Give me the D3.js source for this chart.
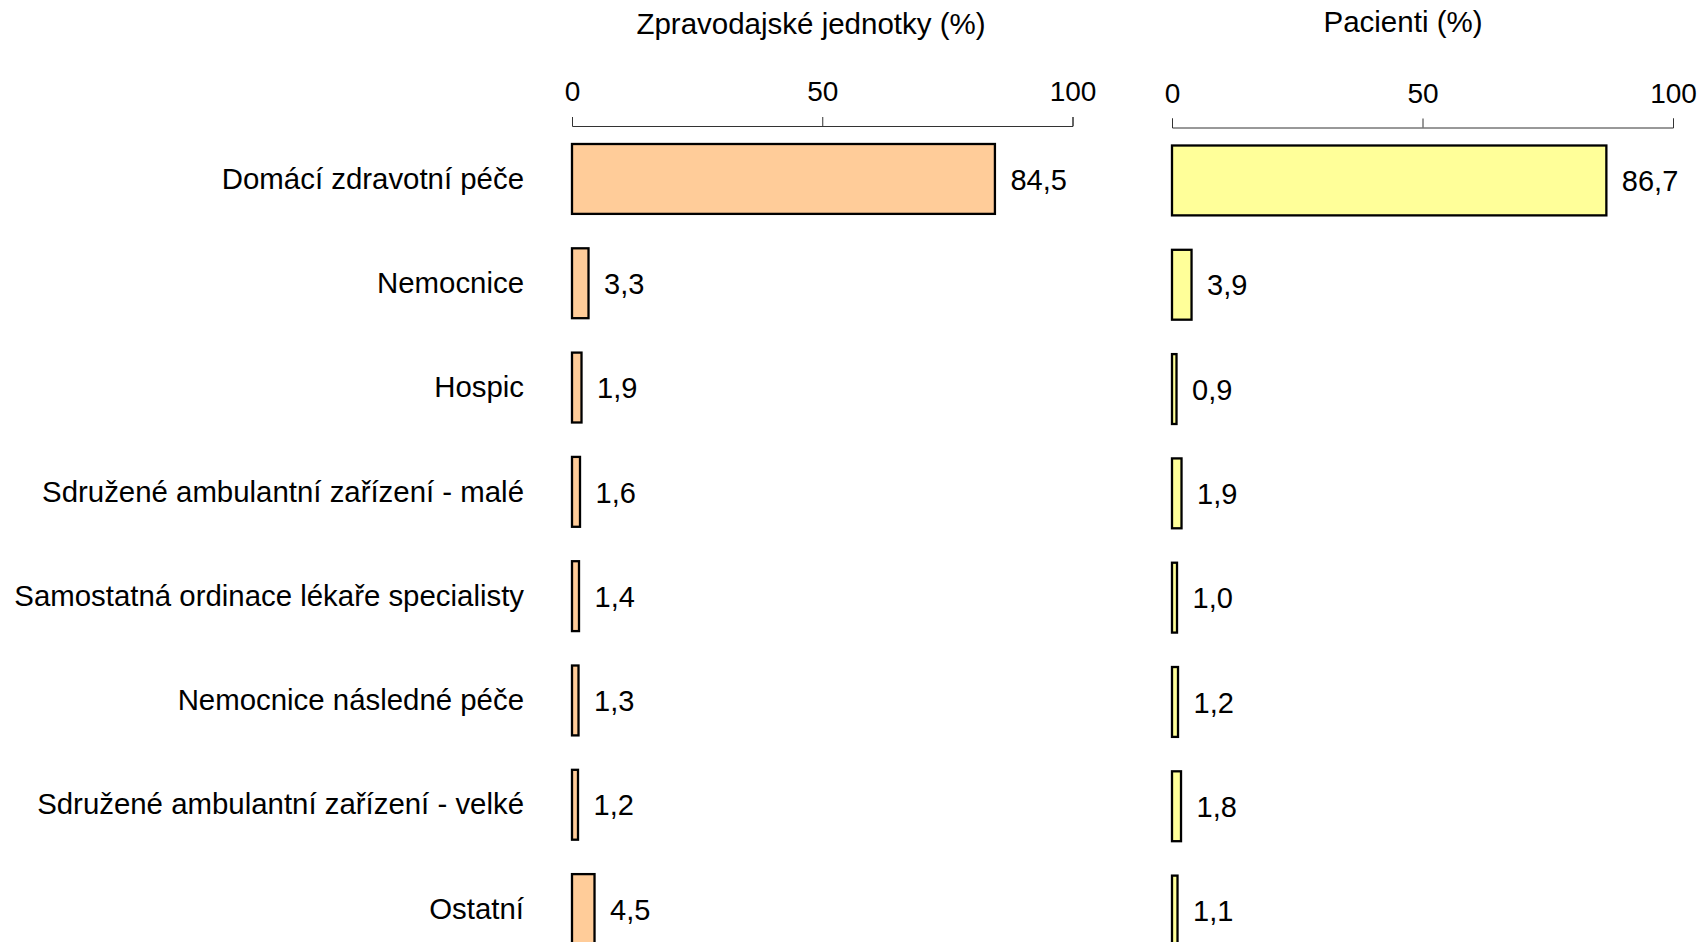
<!DOCTYPE html>
<html>
<head>
<meta charset="utf-8">
<script src="https://cdn.jsdelivr.net/npm/d3@7"></script>
<style>
  html, body { margin: 0; padding: 0; background: #fff; }
  svg { display: block; font-family: "Liberation Sans", Arial, sans-serif; }
</style>
</head>
<body>
<svg id="chart" width="1708" height="942"></svg>
<script>
const categories = [
  "Domácí zdravotní péče",
  "Nemocnice",
  "Hospic",
  "Sdružené ambulantní zařízení - malé",
  "Samostatná ordinace lékaře specialisty",
  "Nemocnice následné péče",
  "Sdružené ambulantní zařízení - velké",
  "Ostatní"
];
const unitsValues = [84.5, 3.3, 1.9, 1.6, 1.4, 1.3, 1.2, 4.5];
const patientsValues = [86.7, 3.9, 0.9, 1.9, 1.0, 1.2, 1.8, 1.1];
const tickValues = [0, 50, 100];
const panelTitles = ["Zpravodajské jednotky (%)", "Pacienti (%)"];

const svg = d3.select("#chart");
const locale = d3.formatLocale({decimal: ",", thousands: " ", grouping: [3], currency: ["", " Kč"]});
const fmt = locale.format(".1f");

const y = d3.scaleBand()
  .domain(categories)
  .range([144, 944])
  .paddingInner(0.33)
  .paddingOuter(0);

const panels = [
  {values: unitsValues, range: [572, 1072.5], fill: "#FFCC99", title: panelTitles[0], titleX: 811, titleY: 34, dy: 0},
  {values: patientsValues, range: [1172, 1673], fill: "#FFFF99", title: panelTitles[1], titleX: 1403, titleY: 32, dy: 1.5}
];

// Category labels
svg.append("g").selectAll("text")
  .data(categories)
  .join("text")
  .attr("x", 524)
  .attr("y", d => y(d) + y.bandwidth() / 2)
  .attr("dy", "0.33em")
  .attr("text-anchor", "end")
  .attr("font-size", 29.4)
  .attr("fill", "#000")
  .text(d => d);

panels.forEach(p => {
  const x = d3.scaleLinear().domain([0, 100]).range(p.range);
  const g = svg.append("g").attr("transform", `translate(0,${p.dy})`);

  // axis
  const axis = d3.axisTop(x).tickValues(tickValues).tickSize(9).tickPadding(16).tickFormat(d3.format("d"));
  const ag = g.append("g").attr("transform", "translate(0,126)").call(axis);
  ag.selectAll("path, line").attr("stroke", "#333").attr("stroke-width", 1);
  ag.selectAll("text").attr("font-size", 28).attr("fill", "#000")
    .attr("font-family", "\"Liberation Sans\", Arial, sans-serif");

  // title
  svg.append("text")
    .attr("x", p.titleX)
    .attr("y", p.titleY)
    .attr("text-anchor", "middle")
    .attr("font-size", 29.5)
    .attr("fill", "#000")
    .text(p.title);

  // bars
  g.selectAll("rect.bar")
    .data(p.values)
    .join("rect")
    .attr("class", "bar")
    .attr("x", x(0))
    .attr("y", (d, i) => y(categories[i]))
    .attr("width", d => x(d) - x(0))
    .attr("height", y.bandwidth())
    .attr("fill", p.fill)
    .attr("stroke", "#000")
    .attr("stroke-width", 2.3);

  // value labels
  g.selectAll("text.val")
    .data(p.values)
    .join("text")
    .attr("class", "val")
    .attr("x", d => x(d) + 15.5)
    .attr("y", (d, i) => y(categories[i]) + y.bandwidth() / 2)
    .attr("dy", "0.37em")
    .attr("font-size", 29)
    .attr("fill", "#000")
    .text(d => fmt(d));
});
</script>
</body>
</html>
